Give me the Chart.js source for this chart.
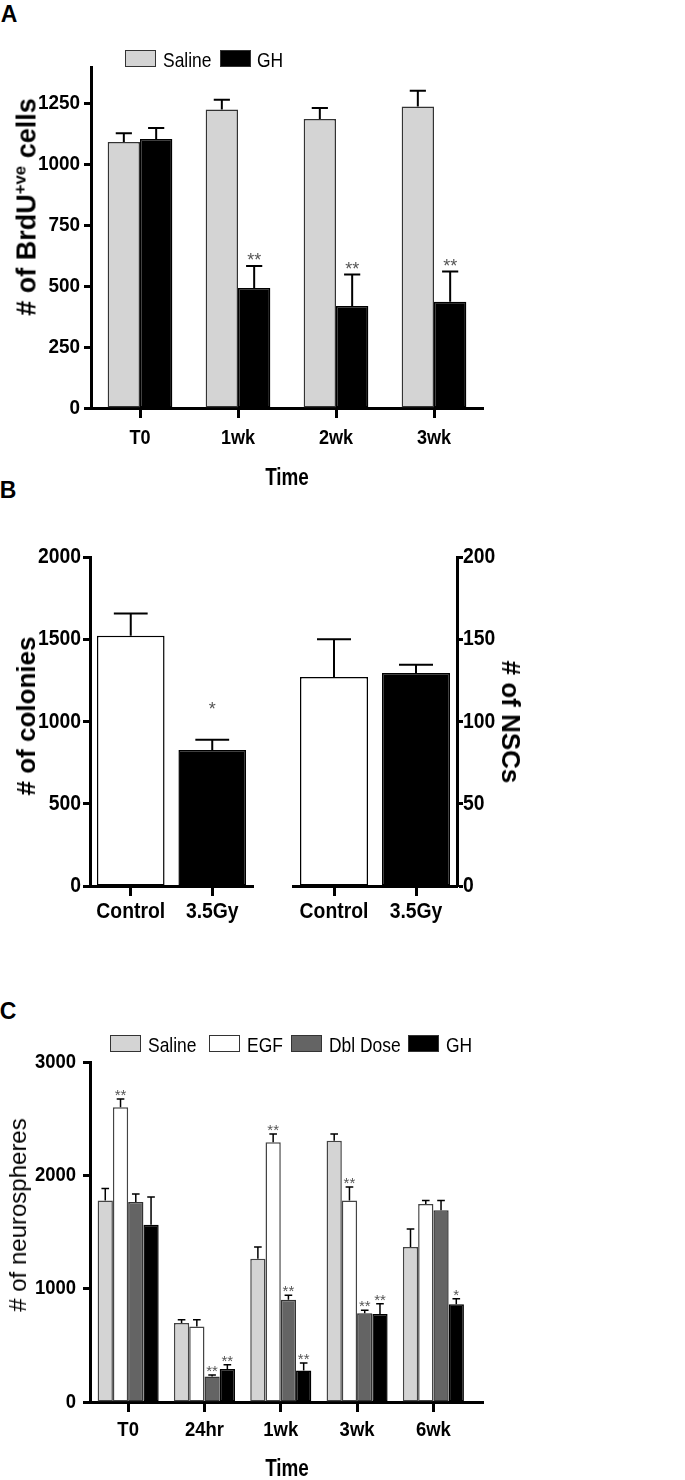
<!DOCTYPE html>
<html>
<head>
<meta charset="utf-8">
<script src="https://cdn.jsdelivr.net/npm/chart.js@4.4.1/dist/chart.umd.min.js"></script>
<style>
  body { margin: 0; background: #fff; width: 685px; height: 1480px; position: relative; overflow: hidden;
         font-family: 'Liberation Sans', Arial, sans-serif; color: #000; }
  canvas { position: absolute; }
  .txt { position: absolute; white-space: nowrap; line-height: 1; transform: translate(-50%, -50%); }
  .panel { font-weight: bold; font-size: 23px; }
  .xtitle { font-weight: bold; font-size: 23px; transform: translate(-50%, -50%) scaleX(0.82); }
  .rot { transform: translate(-50%, -50%) rotate(-90deg); }
  .rotcw { transform: translate(-50%, -50%) rotate(90deg); }
  .ytitle { font-weight: bold; font-size: 26px; }
  .ytitle sup { font-size: 0.62em; vertical-align: 0.6em; line-height: 0; }
  .lbox { position: absolute; width: 29px; height: 15px; border: 1.5px solid #333; }
  .ltext { position: absolute; white-space: nowrap; line-height: 1; font-size: 21px;
           transform: translateY(-50%) scaleX(0.83); transform-origin: left center; }
</style>
</head>
<body>

<div class="txt panel" style="left:9px; top:14px">A</div>
<div class="txt panel" style="left:8px; top:490px">B</div>
<div class="txt panel" style="left:8px; top:1011px">C</div>

<canvas id="chartA" width="685" height="490" style="left:0; top:0"></canvas>
<canvas id="chartB1" width="280" height="440" style="left:0; top:490px"></canvas>
<canvas id="chartB2" width="405" height="440" style="left:280px; top:490px"></canvas>
<canvas id="chartC" width="685" height="550" style="left:0; top:930px"></canvas>

<div class="txt rot ytitle" style="left:27px; top:207px; font-size:27px"># of BrdU<sup>+ve</sup> cells</div>
<div class="txt xtitle" style="left:287px; top:477px">Time</div>
<div class="txt rot ytitle" style="left:26px; top:716px"># of colonies</div>
<div class="txt rotcw ytitle" style="left:511px; top:722px"># of NSCs</div>
<div class="txt rot ytitle" style="left:18px; top:1215px; font-weight:normal; font-size:24px"># of neurospheres</div>
<div class="txt xtitle" style="left:287px; top:1468px">Time</div>

<script>
// ---- panel A: BrdU cells over time
const aTimes = ['T0', '1wk', '2wk', '3wk'];
const aSeries = ['Saline', 'GH'];
const aSaline = [1092, 1226, 1187, 1238];
const aSalineErr = [36, 40, 45, 65];
const aGH = [1104, 493, 419, 436];
const aGHErr = [46, 90, 129, 124];
const aSalineStars = ['', '', '', ''];
const aGHStars = ['', '**', '**', '**'];
const aTicks = [0, 250, 500, 750, 1000, 1250];

// ---- panel B: colonies and NSCs
const bGroups = ['Control', '3.5Gy'];
const bColonies = [1522, 827];
const bColoniesErr = [135, 62];
const bColoniesStars = ['', '*'];
const bNSCs = [127, 129.5];
const bNSCsErr = [23, 5];
const bColonyTicks = [0, 500, 1000, 1500, 2000];
const bNSCTicks = [0, 50, 100, 150, 200];

// ---- panel C: neurospheres over time
const cTimes = ['T0', '24hr', '1wk', '3wk', '6wk'];
const cSeries = ['Saline', 'EGF', 'Dbl Dose', 'GH'];
const cSaline = [1779, 697, 1265, 2306, 1368];
const cSalineErr = [104, 29, 103, 59, 159];
const cEGF = [2600, 667, 2291, 1779, 1747];
const cEGFErr = [74, 59, 74, 118, 30];
const cDbl = [1765, 226, 903, 782, 1691];
const cDblErr = [71, 12, 38, 27, 88];
const cGH = [1565, 291, 279, 777, 862];
const cGHErr = [244, 38, 65, 91, 50];
const cSalineStars = ['', '', '', '', ''];
const cEGFStars = ['**', '', '**', '**', ''];
const cDblStars = ['', '**', '**', '**', ''];
const cGHStars = ['', '**', '**', '**', '*'];
const cTicks = [0, 1000, 2000, 3000];

const LIGHT = '#d4d4d4';
const DARK = '#646464';
const FONT = "'Liberation Sans', Arial, sans-serif";

Chart.defaults.font.family = FONT;
Chart.defaults.color = '#000';

// error bars + significance stars, read from each dataset's errors / stars arrays
const errorBars = {
  id: 'errorBars',
  afterDatasetsDraw(chart, args, opts) {
    const ctx = chart.ctx;
    ctx.save();
    chart.data.datasets.forEach((ds, i) => {
      const meta = chart.getDatasetMeta(i);
      const yScale = chart.scales[meta.yAxisID];
      meta.data.forEach((bar, j) => {
        const d = ds.data[j];
        const v = typeof d === 'object' ? d.y : d;
        const top = yScale.getPixelForValue(v + ds.errors[j]);
        const half = bar.width / 4;
        ctx.strokeStyle = '#000';
        ctx.lineWidth = opts.width;
        ctx.beginPath();
        ctx.moveTo(bar.x, bar.y);
        ctx.lineTo(bar.x, top);
        ctx.moveTo(bar.x - half, top);
        ctx.lineTo(bar.x + half, top);
        ctx.stroke();
        if (ds.stars && ds.stars[j]) {
          ctx.fillStyle = '#555';
          ctx.font = opts.starSize + 'px ' + FONT;
          ctx.textAlign = 'center';
          ctx.textBaseline = 'alphabetic';
          ctx.fillText(ds.stars[j], bar.x, top - opts.starOffset);
        }
      });
    });
    ctx.restore();
  }
};

// tick labels in a condensed bold face (the scale's own ticks, squeezed horizontally)
const tickText = {
  id: 'tickText',
  afterDraw(chart, args, opts) {
    const ctx = chart.ctx;
    ctx.save();
    ctx.fillStyle = '#000';
    ctx.textBaseline = 'middle';
    Object.keys(opts.axes).forEach(id => {
      const o = opts.axes[id];
      const scale = chart.scales[id];
      ctx.font = 'bold ' + o.size + 'px ' + FONT;
      scale.ticks.forEach((t, i) => {
        const p = scale.getPixelForTick(i);
        let x, y;
        if (scale.isHorizontal()) { x = p; y = scale.top + o.gap; ctx.textAlign = 'center'; }
        else if (scale.position === 'left') { x = scale.right - o.gap; y = p; ctx.textAlign = 'right'; }
        else { x = scale.left + o.gap; y = p; ctx.textAlign = 'left'; }
        ctx.save();
        ctx.translate(x, y);
        ctx.scale(o.stretch, 1);
        ctx.fillText(t.label, 0, 0);
        ctx.restore();
      });
    });
    ctx.restore();
  }
};

function yAxis(ticks, max, width, position, tickLen) {
  return {
    position: position,
    min: 0,
    max: max,
    afterBuildTicks: s => { s.ticks = ticks.map(v => ({ value: v })); },
    afterFit: s => { s.width = width; },
    grid: { display: true, drawOnChartArea: false, drawTicks: true, tickLength: tickLen, tickWidth: 3, tickColor: '#000' },
    border: { display: true, color: '#000', width: 3 },
    ticks: { display: false, callback: v => String(v) }
  };
}

function xAxis(height) {
  return {
    grid: { display: true, offset: false, drawOnChartArea: false, drawTicks: true, tickLength: 10, tickWidth: 3, tickColor: '#000' },
    border: { display: true, color: '#000', width: 3 },
    ticks: { display: false, autoSkip: false, maxRotation: 0 },
    afterFit: s => { s.height = height; }
  };
}

function baseOptions(padding, scales, err, ticks) {
  return {
    responsive: false,
    animation: false,
    devicePixelRatio: 1,
    layout: { padding: padding },
    plugins: { legend: { display: false }, tooltip: { enabled: false }, errorBars: err, tickText: { axes: ticks } },
    scales: scales
  };
}

function buildLegend(names, fills, y, boxX, textX) {
  names.forEach((n, i) => {
    const box = document.createElement('div');
    box.className = 'lbox';
    box.style.left = boxX[i] + 'px';
    box.style.top = (y - 9) + 'px';
    box.style.background = fills[i];
    document.body.appendChild(box);
    const t = document.createElement('div');
    t.className = 'ltext';
    t.style.left = textX[i] + 'px';
    t.style.top = y + 'px';
    t.textContent = n;
    document.body.appendChild(t);
  });
}

// Panel A
new Chart(document.getElementById('chartA'), {
  type: 'bar',
  data: {
    labels: aTimes,
    datasets: [
      { label: aSeries[0], data: aSaline, errors: aSalineErr, stars: aSalineStars,
        backgroundColor: LIGHT, borderColor: '#333', borderWidth: 1.5, borderSkipped: false,
        barPercentage: 1, categoryPercentage: 0.66 },
      { label: aSeries[1], data: aGH, errors: aGHErr, stars: aGHStars,
        backgroundColor: '#000', borderColor: '#000', borderWidth: 1.5, borderSkipped: false,
        barPercentage: 1, categoryPercentage: 0.66 }
    ]
  },
  options: baseOptions({ top: 67, right: 202, left: 0, bottom: 0 }, {
    x: xAxis(82),
    y: yAxis(aTicks, 1400, 91, 'left', 7)
  }, { width: 2, starSize: 18, starOffset: 0 }, {
    x: { size: 21, stretch: 0.86, gap: 30 },
    y: { size: 21, stretch: 0.9, gap: 11 }
  }),
  plugins: [errorBars, tickText]
});
buildLegend(aSeries, [LIGHT, '#000'], 59, [125, 220], [163, 257]);

// Panel B left: colonies
new Chart(document.getElementById('chartB1'), {
  type: 'bar',
  data: {
    labels: bGroups,
    datasets: [
      { label: 'colonies', data: bColonies, errors: bColoniesErr, stars: bColoniesStars,
        backgroundColor: ['#fff', '#000'], borderColor: '#000', borderWidth: 1.5, borderSkipped: false,
        barPercentage: 1, categoryPercentage: 0.83 }
    ]
  },
  options: baseOptions({ top: 67, right: 27, left: 0, bottom: 0 }, {
    x: xAxis(44),
    y: yAxis(bColonyTicks, 2000, 90, 'left', 7)
  }, { width: 2, starSize: 18, starOffset: 25 }, {
    x: { size: 22, stretch: 0.88, gap: 26 },
    y: { size: 22, stretch: 0.88, gap: 9 }
  }),
  plugins: [errorBars, tickText]
});

// Panel B right: NSCs
new Chart(document.getElementById('chartB2'), {
  type: 'bar',
  data: {
    labels: bGroups,
    datasets: [
      { label: 'NSCs', data: bNSCs, errors: bNSCsErr,
        backgroundColor: ['#fff', '#000'], borderColor: '#000', borderWidth: 1.5, borderSkipped: false,
        barPercentage: 1, categoryPercentage: 0.83 }
    ]
  },
  options: baseOptions({ top: 67, right: 0, left: 13, bottom: 0 }, {
    x: xAxis(44),
    y: yAxis(bNSCTicks, 200, 228, 'right', 6)
  }, { width: 2, starSize: 18, starOffset: 25 }, {
    x: { size: 22, stretch: 0.88, gap: 26 },
    y: { size: 22, stretch: 0.88, gap: 6 }
  }),
  plugins: [errorBars, tickText]
});

// Panel C
const cValues = [cSaline, cEGF, cDbl, cGH];
const cErrors = [cSalineErr, cEGFErr, cDblErr, cGHErr];
const cStars = [cSalineStars, cEGFStars, cDblStars, cGHStars];
const cFills = [LIGHT, '#fff', DARK, '#000'];
const cEdges = ['#444', '#444', '#333', '#000'];

const cX = xAxis(78);
cX.type = 'linear';
cX.min = -0.5;
cX.max = 4.65;
cX.offset = false;
cX.afterBuildTicks = s => { s.ticks = cTimes.map((t, i) => ({ value: i })); };
cX.ticks.callback = v => cTimes[v];

new Chart(document.getElementById('chartC'), {
  type: 'bar',
  data: {
    datasets: cSeries.map((name, k) => ({
      label: name,
      data: cValues[k].map((v, i) => ({ x: i, y: v })),
      errors: cErrors[k], stars: cStars[k],
      backgroundColor: cFills[k], borderColor: cEdges[k], borderWidth: 1.5, borderSkipped: false,
      barPercentage: 1, categoryPercentage: 0.8
    }))
  },
  options: baseOptions({ top: 132, right: 202, left: 0, bottom: 0 }, {
    x: cX,
    y: yAxis(cTicks, 3000, 90, 'left', 7)
  }, { width: 1.5, starSize: 15, starOffset: -1 }, {
    x: { size: 21, stretch: 0.88, gap: 28 },
    y: { size: 21, stretch: 0.88, gap: 14 }
  }),
  plugins: [errorBars, tickText]
});
buildLegend(cSeries, cFills, 1044, [110, 209, 291, 408], [148, 247, 329, 446]);
</script>
</body>
</html>
